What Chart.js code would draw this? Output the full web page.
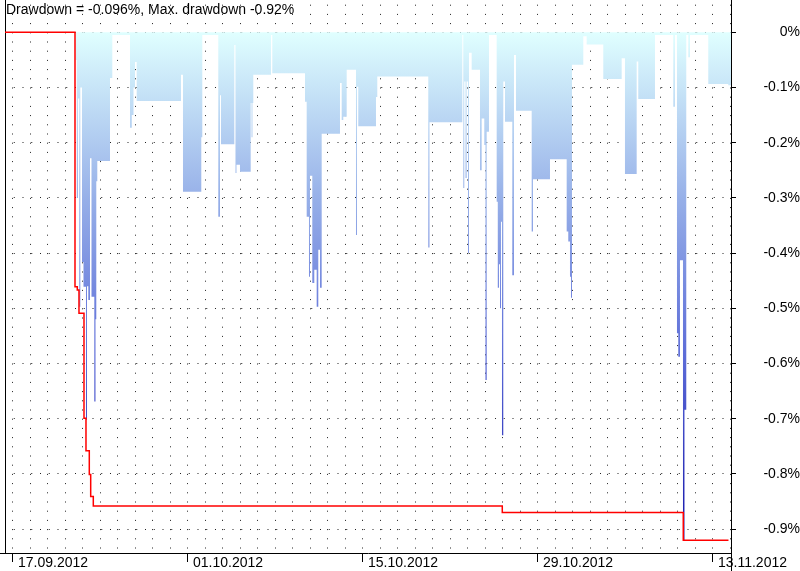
<!DOCTYPE html>
<html><head><meta charset="utf-8">
<script src="https://cdn.jsdelivr.net/npm/chart.js@4.4.1/dist/chart.umd.min.js"></script>
<style>html,body{margin:0;padding:0;background:#fff}canvas{display:block}</style>
</head><body>
<canvas id="c" width="800" height="571"></canvas>
<script>
const titleText = 'Drawdown = -0.096%, Max. drawdown -0.92%';
const dateLabels = ['17.09.2012','01.10.2012','15.10.2012','29.10.2012','13.11.2012'];
const dateLabelPos = [0, 10, 20, 30, 40];
const yTicks = [-0.9, -0.8, -0.7, -0.6, -0.5, -0.4, -0.3, -0.2, -0.1, 0];

// drawdown (%) vs trading-day index (0 = 17.09.2012); each value holds until the next x
const ddX = [-0.457, 3.571, 3.646, 3.714, 3.789, 3.846, 3.943, 4.029, 4.171, 4.229, 4.303, 4.4, 4.486, 4.646, 4.714, 4.76, 4.817, 5.543, 5.674, 6.686, 6.789, 6.886, 6.971, 7.069, 9.6, 9.714, 10.76, 10.817, 11.731, 11.829, 11.886, 12.646, 12.714, 12.771, 12.971, 13.583, 13.629, 13.686, 13.731, 14.743, 14.817, 16.686, 16.783, 16.914, 16.971, 17.103, 17.217, 17.354, 17.446, 17.543, 17.64, 18.686, 18.783, 18.874, 19.069, 19.6, 19.657, 19.731, 20.743, 20.817, 23.731, 23.8, 25.674, 25.731, 25.789, 25.857, 25.926, 26.0, 26.057, 26.211, 26.686, 26.783, 26.931, 27.0, 27.069, 27.2, 27.64, 27.703, 27.771, 27.829, 27.886, 27.943, 28.017, 28.114, 28.531, 28.629, 28.743, 29.64, 29.714, 30.686, 31.64, 31.731, 31.829, 31.886, 31.943, 32.589, 32.783, 33.731, 34.783, 34.971, 35.64, 35.731, 36.686, 37.731, 37.829, 37.943, 38.017, 38.114, 38.286, 38.371, 38.474, 38.589, 38.686, 39.731, 40.874, 41.03];
const ddY = [0, -0.05, -0.30, -0.12, -0.497, -0.10, -0.416, -0.461, -0.702, -0.46, -0.485, -0.228, -0.479, -0.669, -0.52, -0.27, -0.233, -0.083, -0.005, -0.173, -0.15, -0.10, -0.054, -0.1245, -0.077, -0.289, -0.19, -0.005, -0.334, -0.114, -0.203, -0.023, -0.255, -0.24, -0.2525, -0.128, -0.19, -0.128, -0.077, -0.005, -0.0743, -0.126, -0.334, -0.443, -0.26, -0.454, -0.43, -0.497, -0.394, -0.463, -0.184, -0.092, -0.159, -0.153, -0.068, -0.367, -0.0985, -0.17, -0.117, -0.080, -0.39, -0.163, -0.005, -0.282, -0.089, -0.264, -0.089, -0.40, -0.037, -0.068, -0.25, -0.156, -0.204, -0.63, -0.18, -0.005, -0.307, -0.463, -0.42, -0.50, -0.343, -0.73, -0.089, -0.162, -0.44, -0.041, -0.142, -0.361, -0.266, -0.230, -0.361, -0.379, -0.443, -0.481, -0.059, -0.007, -0.022, -0.0846, -0.047, -0.2567, -0.053, -0.1208, -0.005, -0.135, -0.005, -0.545, -0.588, -0.413, -0.92, -0.684, -0.005, -0.045, -0.005, -0.0937, -0.096, -0.096];

// running maximum drawdown (%); each value holds until the next x
const maxX = [-0.457, 3.543, 3.674, 3.771, 4.057, 4.171, 4.36, 4.44, 4.589, 27.96, 38.303, 40.886];
const maxY = [0, -0.461, -0.467, -0.509, -0.699, -0.758, -0.801, -0.841, -0.858, -0.870, -0.920, -0.920];

const dayTicks = [];
for (let d = 0; d <= 41; d++) dayTicks.push(d);

const FONT = '"Liberation Sans", Arial, sans-serif';
Chart.defaults.font.family = FONT;
Chart.defaults.font.size = 14;
Chart.defaults.color = '#000';

function ddGradient(context) {
  const chart = context.chart;
  const area = chart.chartArea;
  if (!area) return 'rgb(180,200,240)';
  const ys = chart.scales.y;
  const y0 = ys.getPixelForValue(0), y1 = ys.getPixelForValue(-0.92);
  const g = chart.ctx.createLinearGradient(0, y0, 0, y1);
  g.addColorStop(0, 'rgb(224,255,255)');
  g.addColorStop(0.33, 'rgb(150,175,232)');
  g.addColorStop(0.65, 'rgb(90,105,215)');
  g.addColorStop(1, 'rgb(20,20,170)');
  return g;
}

const extras = {
  id: 'extras',
  afterDraw(chart) {
    const c = chart.ctx;
    const a = chart.chartArea;
    c.save();
    c.strokeStyle = '#000';
    c.lineWidth = 1;
    c.setLineDash([]);
    c.beginPath();
    c.moveTo(0, Math.round(a.bottom) + 0.5);
    c.lineTo(a.left, Math.round(a.bottom) + 0.5);
    c.moveTo(Math.round(a.right) + 0.5, a.bottom);
    c.lineTo(Math.round(a.right) + 0.5, chart.height);
    c.stroke();
    c.font = '14px ' + FONT;
    c.fillStyle = '#000';
    c.textBaseline = 'middle';
    c.textAlign = 'left';
    c.fillText(titleText, 6, 10);
    c.restore();
  }
};

new Chart(document.getElementById('c'), {
  type: 'line',
  data: {
    datasets: [
      {
        label: 'Max drawdown',
        data: maxX.map((x, i) => ({x: x, y: maxY[i]})),
        borderColor: 'rgb(255,0,0)',
        borderWidth: 1.5,
        pointRadius: 0,
        stepped: 'before',
        fill: false,
        order: 1
      },
      {
        label: 'Drawdown',
        data: ddX.map((x, i) => ({x: x, y: ddY[i]})),
        borderColor: 'rgba(0,0,0,0)',
        borderWidth: 0,
        backgroundColor: ddGradient,
        pointRadius: 0,
        stepped: 'before',
        fill: 'origin',
        order: 2
      }
    ]
  },
  options: {
    responsive: false,
    animation: false,
    layout: { padding: { left: 5, top: 0, right: 0, bottom: 0 } },
    plugins: { legend: { display: false }, tooltip: { enabled: false }, title: { display: false } },
    scales: {
      x: {
        type: 'linear',
        position: 'bottom',
        min: -0.457,
        max: 41.03,
        z: 1,
        afterBuildTicks: (s) => { s.ticks = dayTicks.map(v => ({value: v})); },
        afterFit: (s) => { s.height = 18; s.paddingLeft = 0; s.paddingRight = 0; },
        ticks: {
          autoSkip: false,
          maxRotation: 0,
          minRotation: 0,
          align: 'start',
          labelOffset: 5,
          padding: -7,
          font: { size: 14 },
          callback: (v) => { const i = dateLabelPos.indexOf(v); return i >= 0 ? dateLabels[i] : ''; }
        },
        grid: {
          color: '#222',
          lineWidth: 1,
          tickLength: 9,
          tickBorderDash: [],
          tickColor: (ctx) => (ctx.tick && dateLabelPos.includes(ctx.tick.value)) ? '#000' : 'rgba(0,0,0,0)'
        },
        border: { display: true, color: '#000', width: 1, dash: [1, 8.2], dashOffset: 4.5 }
      },
      y: {
        type: 'linear',
        position: 'right',
        min: -0.9433,
        max: 0.0585,
        z: 1,
        afterBuildTicks: (s) => { s.ticks = yTicks.map(v => ({value: v})); },
        afterFit: (s) => { s.width = 69; s.paddingTop = 0; s.paddingBottom = 0; },
        ticks: {
          crossAlign: 'far',
          padding: 24,
          font: { size: 14 },
          callback: (v) => (Math.abs(v) < 1e-9 ? '0%' : v.toFixed(1) + '%')
        },
        grid: {
          color: '#222',
          lineWidth: 1,
          tickLength: 5,
          tickBorderDash: [],
          tickColor: '#000'
        },
        border: { display: true, color: '#000', width: 1, dash: [1, 7.75] }
      },
      y2: {
        type: 'linear',
        position: 'left',
        min: 0,
        max: 1,
        display: true,
        afterFit: (s) => { s.width = 0; s.paddingTop = 0; s.paddingBottom = 0; },
        ticks: { display: false },
        grid: { drawOnChartArea: false, drawTicks: false },
        border: { display: true, color: '#000', width: 1 }
      }
    }
  },
  plugins: [extras]
});
</script>
</body></html>
